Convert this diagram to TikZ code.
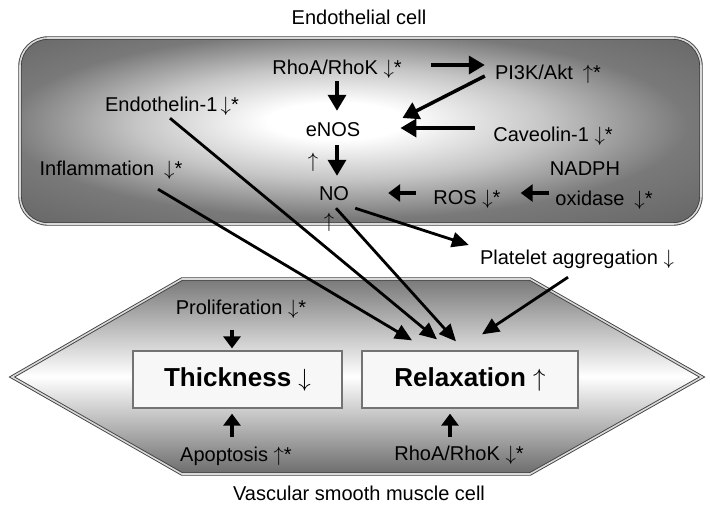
\documentclass[tikz,border=0pt]{standalone}
\usepackage{fontspec}
\setmainfont{Liberation Sans}
\usepackage{tikz}
\usetikzlibrary{arrows.meta}

\newcommand{\dnarr}{$\downarrow$}
\newcommand{\uparr}{$\uparrow$}

\pgfdeclareradialshading{endoshade}{\pgfpoint{-2bp}{3bp}}{color(0bp)=(white); color(5bp)=(white); color(15bp)=(gray!45); color(25bp)=(gray!95!black); color(36bp)=(gray!80!black); color(50bp)=(gray!80!black)}
\pgfdeclareverticalshading{vsmcshade}{100bp}{color(0bp)=(gray!85!black); color(25bp)=(gray!85!black); color(50bp)=(white); color(75bp)=(gray!95!black); color(100bp)=(gray!95!black)}

\tikzset{
	lbl/.style={font=\fontsize{20}{24}\selectfont, inner sep=0pt, text height=14pt, text depth=4pt},
	statebox/.style={draw=black!55, line width=1.3pt, fill=black!3, minimum width=#1, minimum height=57pt, inner sep=0pt, font=\bfseries\fontsize{26}{30}\selectfont},
	cellwall/.style={draw=black!75, line width=0.9pt, double=black!15, double distance=1.6pt},
	fat/.style={line width=3.5pt, -{Triangle[length=16pt,width=18pt]}},
	stub/.style={line width=3.5pt, -{Triangle[length=12pt,width=17pt]}},
	link/.style={line width=2.8pt, -{Triangle[length=17pt,width=15pt]}},
}

\begin{document}
\begin{tikzpicture}[x=1pt, y=-1pt]
		\useasboundingbox (0,0) rectangle (710,507);
		% Cells:
		\draw[cellwall, shade, shading=endoshade, rounded corners=28pt] (20,38) rectangle (701,224);
		\draw[cellwall, shade, shading=vsmcshade] (12,377) -- (182,279) -- (530,279) -- (702,377) -- (530,474) -- (182,474) -- cycle;
		% Labels:
		\node[lbl] (endotitle) at (359,19) {Endothelial cell};
		\node[lbl] (rhoa) at (337,69) {RhoA/RhoK \dnarr*};
		\node[lbl] (pik) at (548,74) {PI3K/Akt\enspace \uparr*};
		\node[lbl] (et) at (172,106) {Endothelin-1\,\dnarr*};
		\node[lbl] (enos) at (333,131) {eNOS};
		\node[lbl] (cav) at (553,136) {Caveolin-1 \dnarr*};
		\node[lbl] (enosup) at (313,162) {\uparr};
		\node[lbl] (infl) at (111,170) {Inflammation\enspace \dnarr*};
		\node[lbl] (nadph) at (585,170) {NADPH};
		\node[lbl] (oxid) at (604,200) {oxidase\enspace \dnarr*};
		\node[lbl] (no) at (334,195) {NO};
		\node[lbl] (ros) at (467,199) {ROS \dnarr*};
		\node[lbl] (noup) at (329,222) {\uparr};
		\node[lbl] (plt) at (577,259) {Platelet aggregation \dnarr};
		\node[lbl] (prolif) at (241,309) {Proliferation \dnarr*};
		\node[statebox=209pt] (thick) at (237.5,379.5) {Thickness \dnarr};
		\node[statebox=216pt] (relax) at (470,379.5) {Relaxation \uparr};
		\node[lbl] (apop) at (236,456) {Apoptosis \uparr*};
		\node[lbl] (rhoavsmc) at (459,455) {RhoA/RhoK \dnarr*};
		\node[lbl] (vsmctitle) at (359,495) {Vascular smooth muscle cell};
		% Arrows:
		\draw[fat] ([shift={(29,-4)}]rhoa.east) -- ([shift={(-10,-9)}]pik.west);
		\draw[fat] ([shift={(0,3)}]rhoa.south) -- ([shift={(4,-11)}]enos.north);
		\draw[fat] ([shift={(-10,2)}]pik.west) -- ([shift={(42,-13)}]enos.east);
		\draw[fat] ([shift={(-18,-8)}]cav.west) -- ([shift={(40,-3)}]enos.east);
		\draw[fat] ([shift={(4,5)}]enos.south) -- ([shift={(3,-10)}]no.north);
		\draw[stub] ([shift={(-17,-6)}]ros.west) -- ([shift={(39,-2)}]no.east);
		\draw[stub] ([shift={(-6,-7)}]oxid.west) -- ([shift={(20,-6)}]ros.east);
		\draw[link] ([shift={(6,4)}]no.south east) -- ([shift={(-11,-14)}]plt.west);
		\draw[link] ([shift={(-2,3)}]et.south) -- ([shift={(-33,-11)}]relax.north);
		\draw[link] ([shift={(47,10)}]infl.south) -- ([shift={(-58,-10)}]relax.north);
		\draw[link] ([shift={(2,4)}]no.south) -- ([shift={(-14,-9)}]relax.north);
		\draw[link] ([shift={(-9,9)}]plt.south) -- ([shift={(12,-16)}]relax.north);
		\draw[stub] ([shift={(-9,12)}]prolif.south) -- ([shift={(-5.5,-2)}]thick.north);
		\draw[stub] ([shift={(-4,-10)}]apop.north) -- ([shift={(-5.5,5)}]thick.south);
		\draw[stub] ([shift={(-9,-9)}]rhoavsmc.north) -- ([shift={(-20,5)}]relax.south);
\end{tikzpicture}
\end{document}
